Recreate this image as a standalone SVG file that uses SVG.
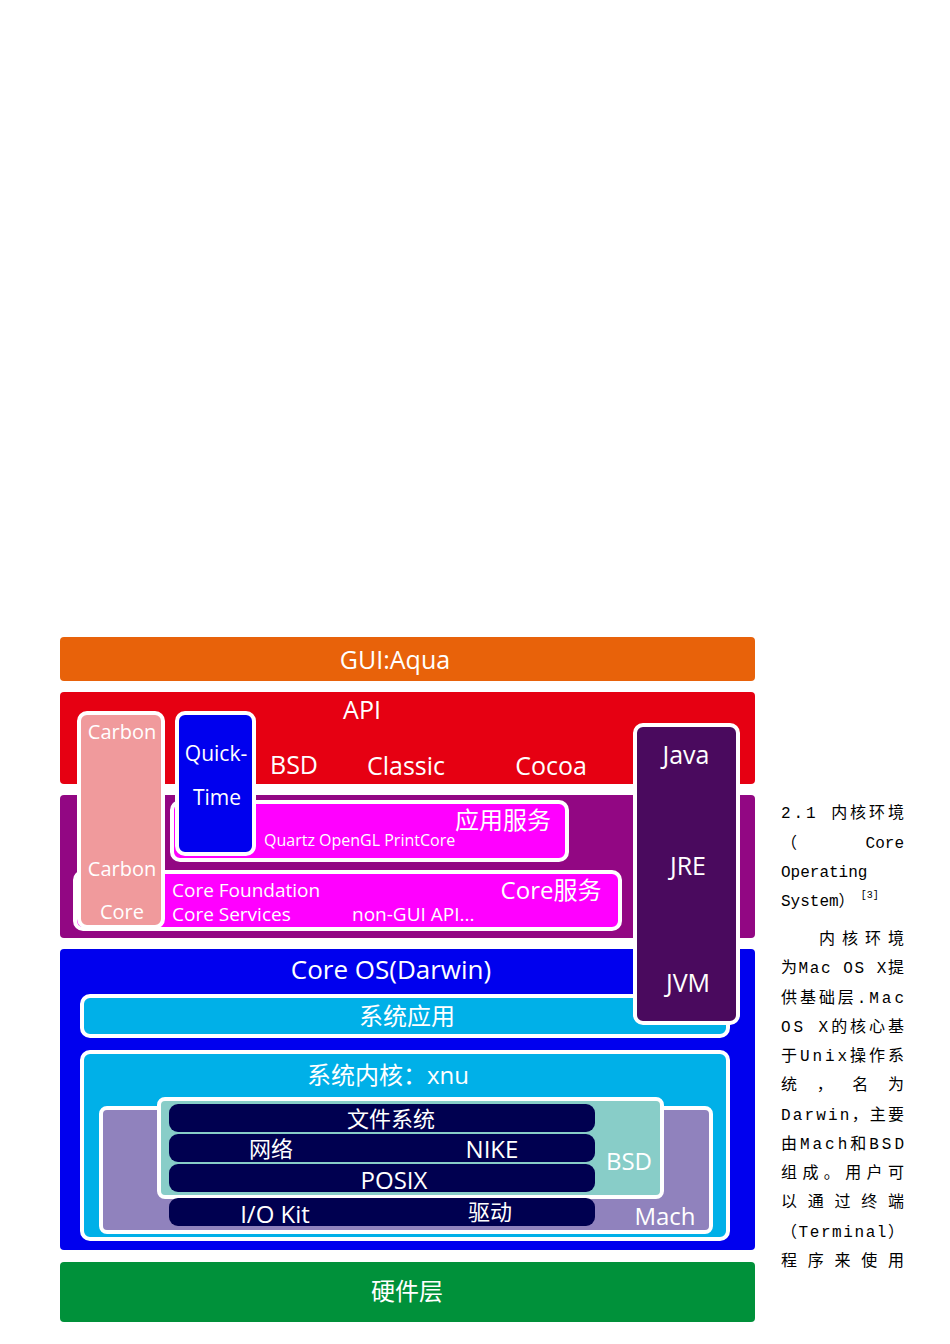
<svg xmlns="http://www.w3.org/2000/svg" width="950" height="1344" viewBox="0 0 950 1344">
<style>
.t{font-family:"Open Sans","Noto Sans CJK SC",sans-serif;fill:#fff;text-anchor:middle}
.w{stroke:#fff;stroke-width:4}
.side{font-family:"Liberation Mono","Noto Sans CJK SC",monospace;font-size:16px;fill:#000}
</style>
<rect width="950" height="1344" fill="#fff"/>
<g id="gui"><rect x="60" y="637" width="695" height="44" rx="4" fill="#e8620a"/><text class="t" x="395" y="669" font-size="25">GUI:Aqua</text></g>
<g id="api"><rect x="60" y="692" width="695" height="92" rx="4" fill="#e60012"/><text class="t" x="362" y="719" font-size="25">API</text>
<text class="t" x="294" y="774" font-size="25">BSD</text><text class="t" x="406" y="775" font-size="25">Classic</text><text class="t" x="551" y="775" font-size="25">Cocoa</text></g>
<g id="services"><rect x="60" y="795" width="695" height="143" rx="4" fill="#920783"/></g>
<g id="core-services"><rect x="75" y="872" width="545" height="57" rx="8" fill="#ff00ff" class="w"/>
<text class="t" x="172" y="897" font-size="19" style="text-anchor:start">Core Foundation</text>
<text class="t" x="172" y="921" font-size="19" style="text-anchor:start">Core Services</text>
<text class="t" x="352" y="921" font-size="19" style="text-anchor:start">non-GUI API...</text>
<text class="t" x="551" y="899" font-size="24">Core服务</text></g>
<g id="app-services"><rect x="172" y="802" width="395" height="58" rx="8" fill="#ff00ff" class="w"/>
<text class="t" x="503" y="829" font-size="24">应用服务</text>
<text class="t" x="264" y="846" font-size="16" style="text-anchor:start">Quartz  OpenGL  PrintCore</text></g>
<g id="carbon"><rect x="79" y="713" width="84" height="214" rx="8" fill="#f09a9c" class="w"/>
<text class="t" x="122" y="739" font-size="20">Carbon</text><text class="t" x="122" y="876" font-size="20">Carbon</text><text class="t" x="122" y="919" font-size="20">Core</text></g>
<g id="quicktime"><rect x="177" y="713" width="77" height="141" rx="8" fill="#0000ee" class="w"/>
<text class="t" x="216" y="761" font-size="21">Quick-</text><text class="t" x="217" y="805" font-size="21">Time</text></g>
<g id="coreos"><rect x="60" y="949" width="695" height="301" rx="4" fill="#0000ee"/><text class="t" x="391" y="979" font-size="26">Core OS(Darwin)</text></g>
<g id="sysapp"><rect x="82" y="996" width="646" height="40" rx="8" fill="#00b0e8" class="w"/><text class="t" x="407" y="1025" font-size="24">系统应用</text></g>
<g id="java"><rect x="635" y="725" width="103" height="298" rx="8" fill="#4a0a5e" class="w"/>
<text class="t" x="686" y="764" font-size="25">Java</text><text class="t" x="688" y="875" font-size="25">JRE</text><text class="t" x="688" y="992" font-size="25">JVM</text></g>
<g id="kernel"><rect x="82" y="1052" width="646" height="187" rx="8" fill="#00b0e8" class="w"/><text class="t" x="388" y="1084" font-size="24">系统内核：xnu</text></g>
<g id="mach"><rect x="101" y="1108" width="610" height="124" rx="6" fill="#9082bd" class="w"/><text class="t" x="665" y="1225" font-size="24">Mach</text></g>
<g id="bsd"><rect x="159" y="1099" width="503" height="98" rx="6" fill="#88cdc8" class="w"/><text class="t" x="629" y="1170" font-size="24">BSD</text></g>
<g id="fs"><rect x="169" y="1104" width="426" height="28" rx="9" fill="#000050"/><text class="t" x="391" y="1127" font-size="22">文件系统</text></g>
<g id="net"><rect x="169" y="1134" width="426" height="28" rx="9" fill="#000050"/><text class="t" x="271" y="1157" font-size="22">网络</text><text class="t" x="492" y="1158" font-size="24">NIKE</text></g>
<g id="posix"><rect x="169" y="1164" width="426" height="28" rx="9" fill="#000050"/><text class="t" x="394" y="1189" font-size="24">POSIX</text></g>
<g id="iokit"><rect x="169" y="1198" width="426" height="28" rx="9" fill="#000050"/><text class="t" x="275" y="1223" font-size="24">I/O Kit</text><text class="t" x="490" y="1220" font-size="22">驱动</text></g>
<g id="hw"><rect x="60" y="1262" width="695" height="60" rx="4" fill="#00913a"/><text class="t" x="407" y="1300" font-size="24">硬件层</text></g>
<g id="connectors"/>
<g id="sidetext" class="side">
<text x="781" y="818" textLength="123" lengthAdjust="spacing">2.1 内核环境</text>
<text x="781" y="848">（</text><text x="904" y="848" text-anchor="end">Core</text>
<text x="781" y="877">Operating</text>
<text x="781" y="906">System）<tspan font-size="10" dy="-8"> [3]</tspan></text>
<text x="819" y="944" textLength="85" lengthAdjust="spacing">内核环境</text>
<text x="781" y="973" textLength="123" lengthAdjust="spacing">为Mac OS X提</text>
<text x="781" y="1003" textLength="123" lengthAdjust="spacing">供基础层.Mac</text>
<text x="781" y="1032" textLength="123" lengthAdjust="spacing">OS X的核心基</text>
<text x="781" y="1061" textLength="123" lengthAdjust="spacing">于Unix操作系</text>
<text x="781" y="1090" textLength="123" lengthAdjust="spacing">统 ， 名 为</text>
<text x="781" y="1120" textLength="123" lengthAdjust="spacing">Darwin，主要</text>
<text x="781" y="1149" textLength="123" lengthAdjust="spacing">由Mach和BSD</text>
<text x="781" y="1178" textLength="123" lengthAdjust="spacing">组成。用户可</text>
<text x="781" y="1207" textLength="123" lengthAdjust="spacing">以通过终端</text>
<text x="781" y="1237" textLength="123" lengthAdjust="spacing">（Terminal）</text>
<text x="781" y="1266" textLength="123" lengthAdjust="spacing">程序来使用</text>
</g>
</svg>
